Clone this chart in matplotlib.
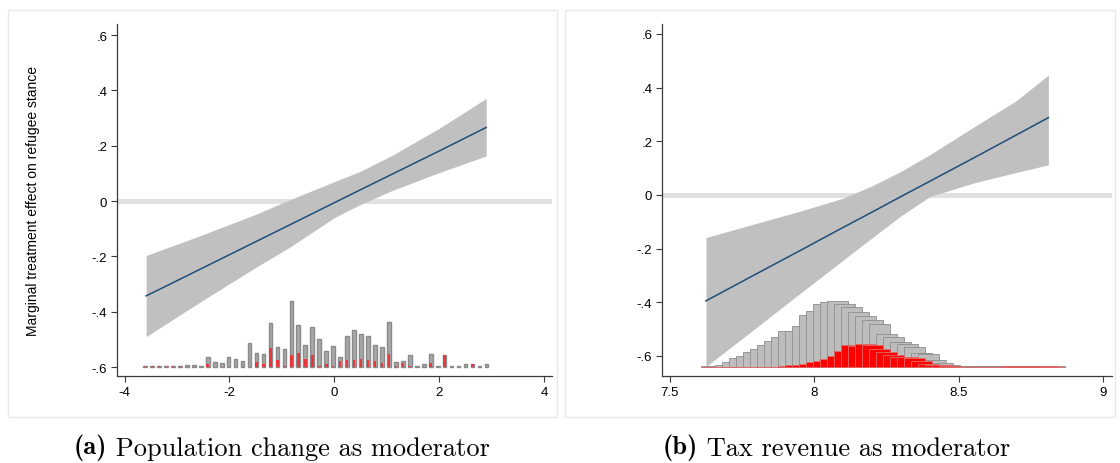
import matplotlib.pyplot as plt
import matplotlib.ticker as ticker
from matplotlib.patches import Rectangle
import numpy as np

plt.rc('font', family=['Liberation Sans', 'DejaVu Sans'], size=9.5)

# ---- panel (a): population change as moderator ----
a_x = [-3.59, -2.5, -1.5, -0.86, 0.0, 0.5, 1.1, 2.0, 2.895]
a_est = [-0.343, -0.241, -0.147, -0.087, -0.006, 0.041, 0.097, 0.181, 0.266]
a_upper = [-0.197, -0.121, -0.048, 0.004, 0.070, 0.108, 0.165, 0.263, 0.371]
a_lower = [-0.490, -0.358, -0.240, -0.168, -0.060, -0.012, 0.038, 0.103, 0.163]

# histogram of the moderator (heights in y units above the -.6 baseline)
a_hist_gray = [0.004, 0.004, 0.004, 0.004, 0.004, 0.004, 0.007, 0.007, 0.004, 0.036,
               0.019, 0.014, 0.036, 0.030, 0.023, 0.086, 0.052, 0.047, 0.158, 0.073,
               0.066, 0.240, 0.151, 0.079, 0.143, 0.101, 0.058, 0.076, 0.036, 0.112,
               0.133, 0.119, 0.112, 0.079, 0.072, 0.162, 0.019, 0.023, 0.043, 0.004,
               0.011, 0.047, 0.004, 0.043, 0.004, 0.004, 0.011, 0.011, 0.004, 0.012]
a_hist_red = [0.004, 0.004, 0.002, 0.002, 0.002, 0.004, 0, 0, 0, 0.012,
              0, 0, 0, 0, 0, 0, 0.019, 0.012, 0.070, 0.026,
              0.004, 0.043, 0.052, 0.030, 0.043, 0.004, 0.011, 0.004, 0.023, 0.026,
              0.026, 0.029, 0.026, 0.023, 0.014, 0.048, 0.004, 0.014, 0.004, 0,
              0, 0.014, 0, 0.043, 0, 0, 0, 0.011, 0, 0]
a_hist_first, a_hist_last = -3.61, 2.90

a_yticks = [-0.6, -0.4, -0.2, 0, 0.2, 0.4, 0.6]
a_yticklabels = ["-.6", "-.4", "-.2", "0", ".2", ".4", ".6"]
a_xticks = [-4, -2, 0, 2, 4]
a_xticklabels = ["-4", "-2", "0", "2", "4"]

# ---- panel (b): tax revenue as moderator ----
b_x = [7.625, 7.8, 7.95, 8.1, 8.2, 8.3, 8.4, 8.55, 8.7, 8.81]
b_est = [-0.395, -0.294, -0.208, -0.121, -0.064, -0.006, 0.051, 0.137, 0.224, 0.288]
b_upper = [-0.159, -0.106, -0.061, -0.012, 0.034, 0.088, 0.150, 0.252, 0.352, 0.447]
b_lower = [-0.640, -0.494, -0.368, -0.243, -0.160, -0.078, -0.006, 0.044, 0.084, 0.112]

b_hist_gray = [0.002, 0.002,
               0.005, 0.016, 0.032, 0.041, 0.055, 0.067, 0.082, 0.095, 0.110, 0.131,
               0.132, 0.151, 0.192, 0.209, 0.232, 0.242, 0.244, 0.234, 0.222, 0.203,
               0.188, 0.172, 0.160, 0.122, 0.110, 0.092, 0.085, 0.072, 0.051, 0.047,
               0.026, 0.014, 0.005,
               0.002, 0.002, 0.002, 0.002, 0.002, 0.002, 0.002, 0.002,
               0.002, 0.002, 0.002, 0.002, 0.002, 0.002, 0.002]
b_hist_red = [0, 0,
              0, 0, 0, 0, 0, 0, 0, 0, 0, 0.002,
              0.005, 0.007, 0.011, 0.016, 0.022, 0.030, 0.039, 0.060, 0.080, 0.077,
              0.085, 0.082, 0.067, 0.055, 0.045, 0.037, 0.035, 0.032, 0.020, 0.010,
              0.007, 0.005, 0.002,
              0, 0, 0, 0, 0, 0, 0, 0,
              0.001, 0.001, 0.001, 0.001, 0.001, 0.001, 0]
b_hist_start, b_hist_step = 7.609, 0.0242

b_yticks = [-0.6, -0.4, -0.2, 0, 0.2, 0.4, 0.6]
b_yticklabels = ["-.6", "-.4", "-.2", "0", ".2", ".4", ".6"]
b_xticks = [7.5, 8, 8.5, 9]
b_xticklabels = ["7.5", "8", "8.5", "9"]

caption_tags = ["(a)", "(b)"]
captions = ["Population change as moderator", "Tax revenue as moderator"]

W, H = 1120, 464
fig = plt.figure(figsize=(W / 100, H / 100), dpi=100)

# light frames around the two graph regions
for x0, x1 in [(8, 557), (565, 1115)]:
    fig.patches.append(Rectangle((x0 / W, 1 - 418 / H), (x1 - x0) / W, 407 / H,
                                 transform=fig.transFigure, fill=False,
                                 edgecolor='#e4eaed', lw=1.0))

ax1 = fig.add_axes([117 / W, 1 - 377 / H, 435 / W, 352 / H])
ax2 = fig.add_axes([662 / W, 1 - 377 / H, 450 / W, 352 / H])


def style(ax, xticks, xlabels, yticks, ylabels):
    for s in ['top', 'right']:
        ax.spines[s].set_visible(False)
    for s in ['left', 'bottom']:
        ax.spines[s].set_color('#3a3a3a')
        ax.spines[s].set_linewidth(0.9)
    ax.set_xticks(xticks)
    ax.xaxis.set_major_formatter(ticker.FixedFormatter(xlabels))
    ax.set_yticks(yticks)
    ax.yaxis.set_major_formatter(ticker.FixedFormatter(ylabels))
    ax.tick_params(direction='out', length=4, width=0.8, color='#3a3a3a',
                   labelsize=9.5, pad=3)
    ax.patch.set_visible(False)


# panel (a)
ax1.axhline(0, color='#e1e1e1', lw=3.6, zorder=1)
ax1.fill_between(a_x, a_lower, a_upper, color='#c0c0c0', lw=0, zorder=2)
ax1.plot(a_x, a_est, color='#1f4e79', lw=1.1, zorder=4)
a_centers = np.linspace(a_hist_first, a_hist_last, len(a_hist_gray))
ax1.bar(a_centers, a_hist_gray, width=0.07, bottom=-0.6, color='#a8a8a8',
        edgecolor='#8a8a8a', lw=1.0, zorder=3)
ax1.bar(a_centers, a_hist_red, width=0.05, bottom=-0.6, color='#e8383d',
        lw=0, zorder=3)
ax1.set_xlim(-4.145, 4.15)
ax1.set_ylim(-0.6325, 0.64)
style(ax1, a_xticks, a_xticklabels, a_yticks, a_yticklabels)

# panel (b)
ax2.axhline(0, color='#e1e1e1', lw=3.6, zorder=1)
ax2.fill_between(b_x, b_lower, b_upper, color='#c0c0c0', lw=0, zorder=2)
ax2.plot(b_x, b_est, color='#1f4e79', lw=1.1, zorder=4)
b_left = b_hist_start + b_hist_step * np.arange(len(b_hist_gray))
ax2.bar(b_left, b_hist_gray, width=3 * b_hist_step, align='edge', bottom=-0.64,
        color='#bdbdbd', edgecolor='#8e8e8e', lw=0.6, zorder=3)
ax2.bar(b_left, b_hist_red, width=3 * b_hist_step, align='edge', bottom=-0.64,
        color='#ff0000', edgecolor='#e06a6a', lw=0.6, zorder=3)
ax2.set_xlim(7.473, 9.03)
ax2.set_ylim(-0.675, 0.637)
style(ax2, b_xticks, b_xticklabels, b_yticks, b_yticklabels)

fig.text(33 / W, 1 - 201 / H, "Marginal treatment effect on refugee stance",
         rotation=90, ha='center', va='center', fontsize=10)

# sub-captions: bold tag followed by roman text
for tag, cap, x_left in zip(caption_tags, captions, [74, 663]):
    t = fig.text(x_left / W, 1 - 461 / H, tag, ha='left', va='bottom',
                 fontsize=19, family='cmb10')
    fig.add_artist(plt.Annotation(" " + cap, xy=(1, 0), xycoords=t,
                                  va='bottom', ha='left', fontsize=19,
                                  family='cmr10'))

fig.savefig("out.png", dpi=100)
